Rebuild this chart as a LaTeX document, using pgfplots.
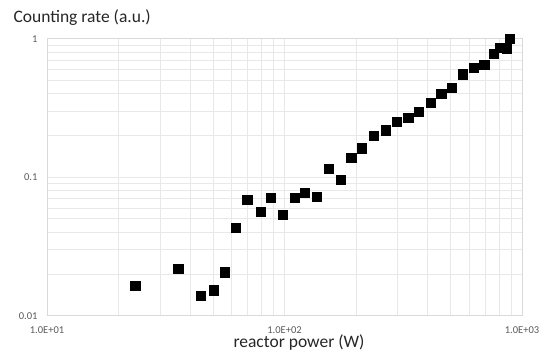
\documentclass[border=0pt]{standalone}
\usepackage{fontspec}
\setmainfont{Carlito}
\usepackage{pgfplots}
\pgfplotsset{compat=1.18}
\definecolor{gridc}{RGB}{232,232,232}
\definecolor{axc}{RGB}{217,217,217}
\definecolor{tickc}{RGB}{89,89,89}
\begin{document}
\begin{tikzpicture}
\path[use as bounding box] (0pt,0pt) rectangle (548pt,354pt);
\begin{axis}[
  at={(47pt,38.3pt)}, anchor=south west,
  scale only axis, width=475pt, height=277pt,
  xmode=log, ymode=log,
  xmin=10, xmax=1000, ymin=0.01, ymax=1,
  xtick={10,100,1000}, xticklabels={1.0E+01,1.0E+02,1.0E+03},
  ytick={0.01,0.1,1}, yticklabels={0.01,0.1,1},
  grid=both, major grid style={gridc, line width=0.8pt}, minor grid style={gridc, line width=0.8pt},
  axis line style={axc, line width=0.8pt},
  tick style={draw=none},
  /pgf/number format/assume math mode=true,
  ticklabel style={font=\fontsize{10.5}{12}\selectfont, text=tickc},
  xticklabel style={yshift=-7pt},
  yticklabel style={xshift=-6pt},
  clip=false,
]
\addplot[only marks, mark=square*, mark size=4.6pt, black] coordinates {
(23.5,0.0164) (35.7,0.0218) (44.5,0.0140) (50.3,0.0153) (55.8,0.0206)
(62.5,0.0434) (69.7,0.0691) (79.1,0.0563) (87.5,0.0711) (98.2,0.0533)
(110.4,0.0715) (122,0.0776) (136.6,0.0726) (153.8,0.1157) (172.4,0.0964)
(191,0.1383) (211.8,0.1622) (238.2,0.2003) (267.4,0.2188) (296.9,0.250)
(332,0.2704) (368,0.2985) (412.6,0.345) (457,0.401) (507,0.445)
(564.4,0.555) (628,0.617) (693.6,0.645) (760,0.783) (805,0.861)
(859,0.851) (888,1.0)
};
\end{axis}
\node[anchor=west, font=\fontsize{17.5}{20}\selectfont, text={rgb,255:red,38;green,38;blue,38}] at (10pt,336pt) {Counting rate (a.u.)};
\node[font=\fontsize{17.5}{20}\selectfont, text={rgb,255:red,38;green,38;blue,38}] at (299pt,11pt) {reactor power (W)};
\end{tikzpicture}
\end{document}
